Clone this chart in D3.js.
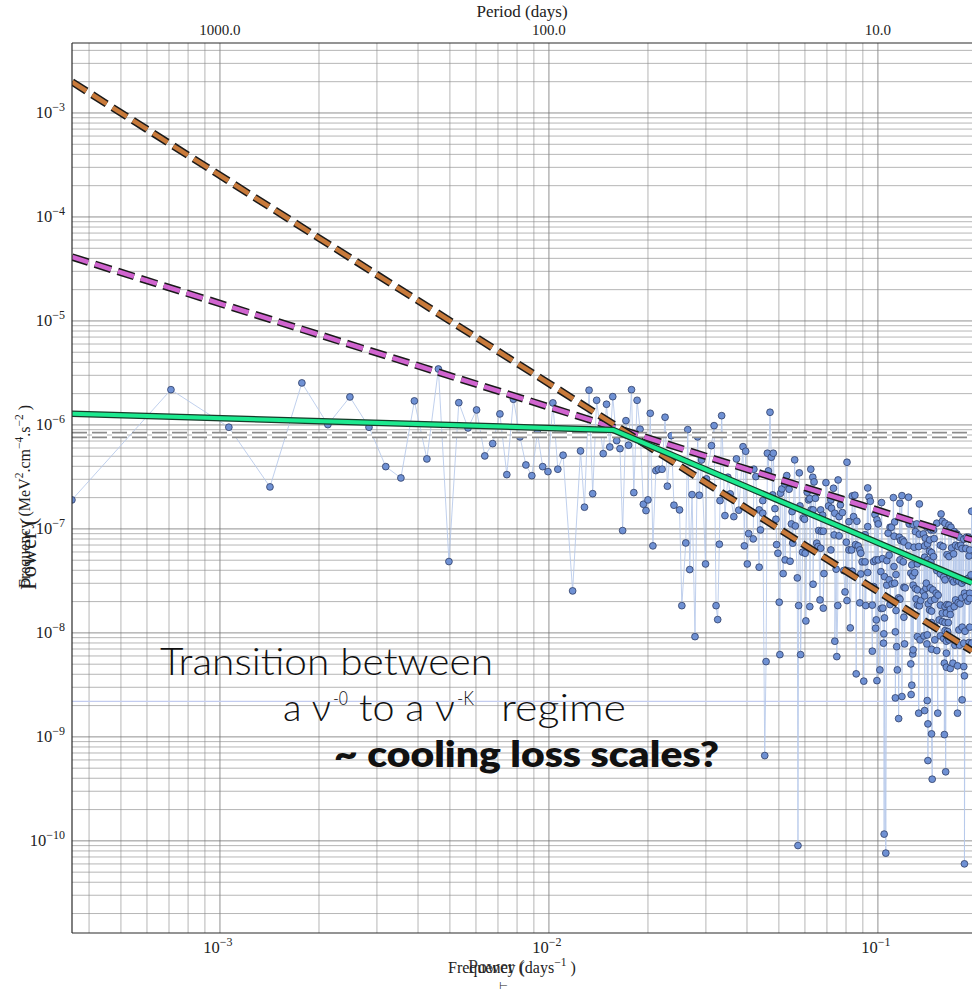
<!DOCTYPE html>
<html>
<head>
<meta charset="utf-8">
<script src="https://cdn.jsdelivr.net/npm/d3@7"></script>
<style>
  body { margin: 0; background: #fff; }
  svg { display: block; }
</style>
</head>
<body>
<svg id="chart" width="972" height="991"></svg>
<script>
// ---- periodogram samples: [log10 frequency (days^-1), log10 power] ----
const periodogramLog = [
  [-3.450,-6.721],[-3.149,-5.661],[-2.973,-6.022],[-2.848,-6.596],[-2.751,-5.596],
  [-2.672,-5.997],[-2.605,-5.731],[-2.547,-6.022],[-2.496,-6.401],[-2.450,-6.510],
  [-2.409,-5.769],[-2.371,-6.327],[-2.336,-5.462],[-2.304,-7.314],[-2.274,-5.786],
  [-2.246,-6.029],[-2.220,-5.856],[-2.195,-6.298],[-2.171,-6.180],[-2.149,-5.894],
  [-2.128,-6.478],[-2.108,-5.753],[-2.088,-6.115],[-2.070,-6.385],[-2.052,-6.488],
  [-2.035,-6.074],[-2.019,-6.401],[-2.003,-6.449],[-1.988,-5.788],[-1.973,-6.426],
  [-1.957,-6.291],[-1.928,-7.596],[-1.904,-6.250],[-1.892,-6.791],[-1.878,-5.666],
  [-1.867,-6.661],[-1.855,-5.763],[-1.835,-6.276],[-1.825,-5.801],[-1.815,-6.212],
  [-1.806,-5.728],[-1.794,-6.151],[-1.784,-6.228],[-1.776,-7.016],[-1.766,-5.959],
  [-1.758,-6.195],[-1.749,-5.661],[-1.742,-6.651],[-1.732,-5.763],[-1.723,-6.041],
  [-1.713,-6.763],[-1.705,-6.824],[-1.699,-6.721],[-1.692,-5.888],[-1.684,-7.163],
  [-1.675,-6.439],[-1.667,-6.426],[-1.656,-6.426],[-1.647,-5.926],[-1.640,-6.589],
  [-1.628,-6.103],[-1.620,-6.772],[-1.603,-6.817],[-1.596,-7.738],[-1.584,-7.135],
  [-1.578,-6.045],[-1.572,-7.391],[-1.565,-6.670],[-1.556,-8.036],[-1.548,-6.115],
  [-1.543,-6.676],[-1.536,-6.337],[-1.524,-7.337],[-1.521,-6.519],[-1.506,-6.199],
  [-1.498,-6.007],[-1.492,-7.738],[-1.487,-7.872],[-1.482,-7.147],[-1.480,-6.728],
  [-1.475,-5.911],[-1.465,-6.872],[-1.456,-6.503],[-1.449,-6.663],[-1.438,-6.882],
  [-1.430,-6.327],[-1.423,-6.820],[-1.410,-6.209],[-1.406,-7.163],[-1.402,-6.253],
  [-1.397,-7.337],[-1.393,-7.045],[-1.379,-7.096],[-1.361,-7.368],[-1.357,-7.010],
  [-1.350,-6.728],
  [-1.377,-6.426],[-1.371,-6.497],[-1.361,-6.817],[-1.350,-6.849],[-1.344,-9.180],
  [-1.340,-8.276],[-1.336,-6.272],[-1.333,-6.442],[-1.328,-5.878],[-1.324,-6.311],
  [-1.320,-6.673],[-1.318,-6.272],[-1.313,-6.805],[-1.310,-6.907],[-1.308,-7.151],
  [-1.304,-7.234],[-1.300,-7.705],[-1.298,-8.209],[-1.296,-6.657],[-1.292,-6.615],
  [-1.288,-7.430],[-1.283,-6.567],[-1.282,-7.298],[-1.277,-6.487],[-1.270,-6.618],
  [-1.267,-7.311],[-1.263,-6.952],[-1.261,-6.834],[-1.259,-7.137],[-1.253,-6.336],
  [-1.251,-6.971],[-1.245,-7.471],[-1.243,-10.045],[-1.241,-7.737],[-1.239,-6.461],
  [-1.237,-6.779],[-1.235,-8.209],[-1.229,-7.224],[-1.227,-6.894],[-1.223,-6.907],
  [-1.221,-7.234],[-1.219,-7.885],[-1.215,-6.647],[-1.211,-6.721],[-1.207,-6.709],
  [-1.207,-7.747],[-1.204,-6.426],[-1.203,-6.817],[-1.198,-6.503],[-1.197,-6.817],
  [-1.197,-7.532],[-1.194,-6.548],[-1.190,-6.705],[-1.186,-7.137],[-1.182,-7.170],
  [-1.180,-7.016],[-1.176,-7.683],[-1.174,-7.186],[-1.174,-6.817],[-1.172,-7.022],
  [-1.168,-6.868],[-1.166,-7.022],[-1.166,-7.762],[-1.164,-7.430],[-1.158,-6.555],
  [-1.150,-6.779],
  [-1.143,-6.721],[-1.141,-6.801],[-1.143,-7.202],[-1.135,-6.609],[-1.133,-7.058],
  [-1.131,-6.849],[-1.131,-8.080],[-1.127,-7.387],[-1.125,-8.228],[-1.122,-7.737],
  [-1.121,-6.529],[-1.118,-6.882],[-1.118,-7.067],[-1.114,-6.769],[-1.108,-6.843],
  [-1.104,-7.401],[-1.100,-7.606],[-1.096,-7.128],[-1.096,-7.401],[-1.094,-6.359],
  [-1.094,-7.689],[-1.088,-6.930],[-1.088,-7.202],[-1.088,-7.407],[-1.084,-7.952],
  [-1.080,-7.202],[-1.078,-6.683],[-1.078,-7.407],[-1.074,-6.882],[-1.070,-6.676],
  [-1.068,-7.151],[-1.066,-8.394],[-1.064,-6.926],[-1.060,-7.163],[-1.055,-7.202],
  [-1.055,-7.711],[-1.052,-7.234],[-1.052,-7.433],[-1.048,-7.317],[-1.043,-8.464],
  [-1.039,-7.317],[-1.039,-7.055],[-1.037,-7.737],[-1.031,-6.606],[-1.031,-6.978],
  [-1.031,-7.420],[-1.027,-6.695],[-1.023,-6.734],[-1.017,-8.176],[-1.017,-7.733],
  [-1.013,-7.314],[-1.013,-7.555],[-1.009,-6.862],[-1.007,-7.298],[-1.007,-7.955],
  [-1.005,-7.875],[-1.003,-6.913],[-1.003,-8.459],[-0.999,-6.952],[-0.999,-7.298],
  [-0.991,-7.411],[-0.989,-6.747],[-0.985,-7.762],[-0.983,-8.099],[-0.981,-9.935],
  [-0.994,-8.356],[-0.990,-7.766],[-0.986,-7.286],[-0.982,-8.009],[-0.980,-7.459],
  [-0.980,-7.856],[-0.976,-10.118],[-0.973,-7.305],[-0.973,-7.541],[-0.969,-7.041],
  [-0.966,-7.253],[-0.966,-7.490],[-0.963,-6.984],[-0.963,-7.728],[-0.959,-6.984],
  [-0.957,-7.529],[-0.953,-6.699],[-0.951,-7.070],[-0.951,-7.362],[-0.949,-6.933],
  [-0.949,-7.522],[-0.947,-7.990],[-0.947,-8.625],[-0.945,-7.439],[-0.945,-7.785],
  [-0.943,-8.132],[-0.941,-8.356],[-0.937,-7.663],[-0.937,-8.824],[-0.935,-7.080],
  [-0.933,-6.753],[-0.933,-7.298],[-0.933,-7.676],[-0.931,-7.112],[-0.927,-6.680],
  [-0.927,-8.612],[-0.925,-7.106],[-0.923,-7.317],[-0.921,-7.125],[-0.921,-7.561],
  [-0.921,-7.849],[-0.919,-8.106],[-0.917,-7.567],[-0.907,-6.695],[-0.907,-7.163],
  [-0.905,-6.952],[-0.900,-7.426],[-0.900,-8.298],[-0.899,-8.593],[-0.897,-7.346],
  [-0.897,-8.503],[-0.894,-7.452],[-0.894,-8.202],[-0.893,-6.959],[-0.893,-7.541],
  [-0.893,-8.163],[-0.890,-7.176],[-0.888,-7.420],[-0.886,-7.026],[-0.886,-7.574],
  [-0.884,-7.673],[-0.882,-6.952],[-0.880,-7.336],[-0.880,-7.586],[-0.880,-7.733],
  [-0.880,-8.036],[-0.876,-7.170],[-0.876,-8.772],[-0.874,-6.760],[-0.874,-7.051],
  [-0.874,-7.740],[-0.872,-8.067],[-0.870,-7.689],[-0.866,-7.314],[-0.862,-7.048],
  [-0.862,-7.603],[-0.860,-8.029],[-0.858,-7.163],[-0.858,-7.272],[-0.858,-7.644],
  [-0.858,-8.747],[-0.856,-7.089],[-0.854,-7.570],[-0.850,-8.019],[-0.850,-8.651],
  [-0.848,-8.875],[-0.848,-9.228],
  [-0.853,-7.522],[-0.851,-6.984],[-0.851,-8.106],[-0.849,-7.144],[-0.849,-7.298],
  [-0.847,-7.721],[-0.843,-7.106],[-0.843,-7.214],[-0.843,-7.779],[-0.841,-7.567],
  [-0.839,-7.010],[-0.839,-7.317],[-0.839,-7.689],[-0.837,-7.228],[-0.837,-7.791],
  [-0.837,-7.901],[-0.837,-8.157],[-0.837,-8.971],[-0.835,-9.407],[-0.833,-7.586],
  [-0.831,-7.010],[-0.831,-7.266],[-0.829,-7.093],[-0.827,-7.676],[-0.827,-7.939],
  [-0.827,-8.067],[-0.823,-7.618],[-0.821,-6.945],[-0.821,-7.401],[-0.821,-8.170],
  [-0.818,-8.772],[-0.817,-7.637],[-0.814,-7.875],[-0.810,-7.157],[-0.810,-7.433],
  [-0.810,-7.733],[-0.810,-8.029],[-0.808,-6.856],[-0.804,-6.926],[-0.804,-7.810],
  [-0.804,-7.891],[-0.802,-7.170],[-0.800,-7.464],[-0.800,-8.055],[-0.798,-8.291],
  [-0.798,-8.978],[-0.796,-6.945],[-0.796,-7.490],[-0.796,-7.747],[-0.796,-7.901],
  [-0.796,-7.978],[-0.794,-9.336],[-0.792,-7.810],[-0.792,-8.080],[-0.792,-8.195],
  [-0.792,-8.330],[-0.790,-7.247],[-0.790,-7.728],[-0.788,-7.987],[-0.786,-7.901],
  [-0.784,-6.964],[-0.784,-7.266],[-0.784,-7.733],[-0.784,-8.067],[-0.780,-7.452],
  [-0.780,-7.772],[-0.780,-7.824],[-0.780,-8.343],[-0.778,-6.984],[-0.776,-7.183],
  [-0.774,-7.490],[-0.772,-8.291],[-0.770,-7.240],[-0.770,-7.510],[-0.768,-7.026],
  [-0.768,-7.747],[-0.766,-8.118],[-0.764,-7.157],[-0.764,-7.683],[-0.760,-7.048],
  [-0.760,-7.490],[-0.758,-8.317],[-0.758,-8.772],[-0.756,-7.170],[-0.756,-7.709],
  [-0.754,-7.503],[-0.754,-7.971],[-0.752,-7.080],[-0.752,-8.118],[-0.750,-7.721],
  [-0.748,-7.157],[-0.745,-7.522],[-0.745,-7.663],[-0.744,-7.189],[-0.744,-7.945],
  [-0.744,-8.644],[-0.739,-7.099],[-0.739,-8.099],[-0.739,-8.324],[-0.737,-7.497],
  [-0.737,-7.618],[-0.737,-8.413],[-0.737,-10.221],[-0.735,-7.984],[-0.733,-7.189],
  [-0.733,-7.651],[-0.731,-7.080],[-0.727,-7.695],[-0.725,-7.080],[-0.725,-7.474],
  [-0.723,-7.260],[-0.723,-8.093],[-0.721,-7.202],[-0.721,-7.618],[-0.721,-7.670],
  [-0.721,-7.945],[-0.717,-7.442],[-0.715,-6.830],[-0.715,-8.099]
];

// ---- fitted models: [frequency, power] vertices ----
const powerLawSteep   = [[3.55e-4, 1.99e-3], [0.1932, 6.71e-9]];   // ~ nu^-2
const powerLawShallow = [[3.55e-4, 4.12e-5], [0.1932, 7.83e-8]];   // ~ nu^-1
const brokenPowerLaw  = [[3.55e-4, 1.28e-6], [0.01567, 8.95e-7], [0.1932, 3.03e-8]];
const whiteNoiseLevel = 8.0e-7;
const floorLevel = 2.2e-9;

// ---- axes ----
const freqLimits  = [3.55e-4, 0.1932];
const powerLimits = [1.30e-11, 4.71e-3];
const freqLabelExps  = [-3, -2, -1];
const powerLabelExps = [-3, -4, -5, -6, -7, -8, -9, -10];
const periodTicks = [1000, 100, 10];

// ---- layout ----
const PL = 72, PR = 972, PT = 43, PB = 933;
const serif = "'Liberation Serif', 'DejaVu Serif', serif";
const gothic = "Lato, 'Open Sans', sans-serif";

const svg = d3.select("#chart");
const x = d3.scaleLog().domain(freqLimits).range([PL, PR]);
const y = d3.scaleLog().domain(powerLimits).range([PB, PT]);

svg.append("defs").append("clipPath").attr("id", "plotClip")
  .append("rect").attr("x", PL).attr("y", PT).attr("width", PR - PL).attr("height", PB - PT);

// grid (major + minor, both directions)
const isMajor = v => Math.abs(Math.log10(v) - Math.round(Math.log10(v))) < 1e-9;
const grid = svg.append("g");
grid.selectAll("line.gx").data(x.ticks()).join("line")
  .attr("x1", d => x(d)).attr("x2", d => x(d)).attr("y1", PT).attr("y2", PB)
  .attr("stroke", d => isMajor(d) ? "#6e6e6e" : "#8a8a8a")
  .attr("stroke-opacity", d => isMajor(d) ? 0.85 : 0.7)
  .attr("stroke-width", 0.9);
grid.selectAll("line.gy").data(y.ticks()).join("line")
  .attr("y1", d => y(d)).attr("y2", d => y(d)).attr("x1", PL).attr("x2", PR)
  .attr("stroke", d => isMajor(d) ? "#6e6e6e" : "#8a8a8a")
  .attr("stroke-opacity", d => isMajor(d) ? 0.85 : 0.7)
  .attr("stroke-width", 0.9);

const plot = svg.append("g").attr("clip-path", "url(#plotClip)");

// faint reference level
plot.append("line")
  .attr("x1", PL).attr("x2", PR).attr("y1", y(floorLevel)).attr("y2", y(floorLevel))
  .attr("stroke", "#c3ccef").attr("stroke-width", 1.2);

// periodogram
const samples = periodogramLog
  .map(d => ({ f: 10 ** d[0], p: 10 ** d[1] }))
  .sort((a, b) => a.f - b.f);

plot.append("path").datum(samples)
  .attr("d", d3.line().x(d => x(d.f)).y(d => y(d.p)))
  .attr("fill", "none").attr("stroke", "#b5c8ea").attr("stroke-width", 1).attr("stroke-opacity", 0.85);

plot.selectAll("circle.pt").data(samples).join("circle")
  .attr("cx", d => x(d.f)).attr("cy", d => y(d.p)).attr("r", 3.4)
  .attr("fill", "#6f91d4").attr("stroke", "#2f3d66").attr("stroke-width", 0.8);

// model lines with outlined strokes
const lineGen = d3.line().x(d => x(d[0])).y(d => y(d[1]));
function outlined(data, outer, inner, outerW, innerW, dash) {
  const gEl = plot.append("g");
  [[outer, outerW], [inner, innerW]].forEach(([c, w]) => {
    gEl.append("path").datum(data).attr("d", lineGen)
      .attr("fill", "none").attr("stroke", c).attr("stroke-width", w)
      .attr("stroke-dasharray", dash).attr("stroke-linecap", "butt")
      .attr("stroke-linejoin", "round");
  });
}
const flat = [[freqLimits[0], whiteNoiseLevel], [freqLimits[1], whiteNoiseLevel]];
outlined(flat, "#8c8c8c", "#ffffff", 6.5, 3.2, "15,5");
outlined(powerLawShallow, "#1a1a1a", "#d064cf", 7.5, 4.5, "17,7");
outlined(powerLawSteep, "#1a1a1a", "#c87a3b", 7.5, 4.5, "17,7");
outlined(brokenPowerLaw, "#163d2a", "#1de98f", 6.5, 4, null);

// frame
const frame = svg.append("g").attr("stroke", "#2a2a2a").attr("stroke-width", 1.2);
frame.append("line").attr("x1", PL).attr("x2", PL).attr("y1", PT).attr("y2", PB);
frame.append("line").attr("x1", PL).attr("x2", PR).attr("y1", PB).attr("y2", PB);
frame.append("line").attr("x1", PL).attr("x2", PR).attr("y1", PT).attr("y2", PT);

// power tick labels
const yl = svg.append("g").attr("font-family", serif).attr("fill", "#222");
powerLabelExps.forEach(e => {
  const t = yl.append("text").attr("x", 65).attr("y", y(10 ** e) + 5)
    .attr("text-anchor", "end").attr("font-size", 16.5);
  t.append("tspan").text("10");
  t.append("tspan").attr("dy", -7).attr("font-size", 12).text("\u2212" + (-e));
});

// frequency tick labels
const xl = svg.append("g").attr("font-family", serif).attr("fill", "#222");
freqLabelExps.forEach(e => {
  const t = xl.append("text").attr("x", x(10 ** e) - 2).attr("y", 953)
    .attr("text-anchor", "middle").attr("font-size", 16.5);
  t.append("tspan").text("10");
  t.append("tspan").attr("dy", -7).attr("font-size", 12).text("\u2212" + (-e));
});

// period (top) axis
periodTicks.forEach(p => {
  xl.append("text").attr("x", x(1 / p)).attr("y", 35)
    .attr("text-anchor", "middle").attr("font-size", 15).text(p.toFixed(1));
});
xl.append("text").attr("x", 522).attr("y", 17).attr("text-anchor", "middle")
  .attr("font-size", 17).text("Period (days)");

// axis titles (two overlapping label layers)
const bt = xl.append("text").attr("x", 448).attr("y", 973).attr("font-size", 16);
bt.append("tspan").text("Frequency (days");
bt.append("tspan").attr("dy", -7).attr("font-size", 11.5).text("\u22121");
bt.append("tspan").attr("dy", 7).text(" )");
xl.append("text").attr("x", 468).attr("y", 973).attr("font-size", 18).attr("fill-opacity", 0.9).text("Power (");
xl.append("text").attr("x", 499).attr("y", 989).attr("font-family", "'DejaVu Sans', sans-serif")
  .attr("font-size", 10).text("\u22a2");

const lt = xl.append("text").attr("transform", "translate(30,588) rotate(-90)").attr("font-size", 16);
lt.append("tspan").text("Frequency (MeV");
lt.append("tspan").attr("dy", -7).attr("font-size", 11.5).text("2");
lt.append("tspan").attr("dy", 7).text(".cm");
lt.append("tspan").attr("dy", -7).attr("font-size", 11.5).text("\u22124");
lt.append("tspan").attr("dy", 7).text(".s");
lt.append("tspan").attr("dy", -7).attr("font-size", 11.5).text("\u22122");
lt.append("tspan").attr("dy", 7).text(" )");
xl.append("text").attr("transform", "translate(36,590) rotate(-90)").attr("font-size", 23).text("Power (");

// annotation
const note = svg.append("g").attr("font-family", gothic).attr("fill", "#111");
note.append("text").attr("x", 160).attr("y", 675).attr("font-size", 37).attr("font-weight", 300)
  .attr("textLength", 333).attr("lengthAdjust", "spacingAndGlyphs").text("Transition between");
// second line: pieces with raised exponents
const line2 = [
  { s: "a \u03bd",   x0: 283, x1: 331, base: 721, size: 37 },
  { s: "-0",         x0: 333, x1: 348, base: 705, size: 19 },
  { s: "to a \u03bd", x0: 359, x1: 455, base: 721, size: 37 },
  { s: "-K",         x0: 457, x1: 474, base: 705, size: 19 },
  { s: "regime",     x0: 501, x1: 626, base: 721, size: 37 }
];
line2.forEach(p => {
  note.append("text").attr("x", p.x0).attr("y", p.base).attr("font-size", p.size)
    .attr("font-weight", 300).attr("textLength", p.x1 - p.x0)
    .attr("lengthAdjust", "spacingAndGlyphs").text(p.s);
});
note.append("text").attr("x", 334).attr("y", 767).attr("font-size", 36).attr("font-weight", 800)
  .attr("textLength", 385).attr("lengthAdjust", "spacingAndGlyphs").text("~ cooling loss scales?");
</script>
</body>
</html>
